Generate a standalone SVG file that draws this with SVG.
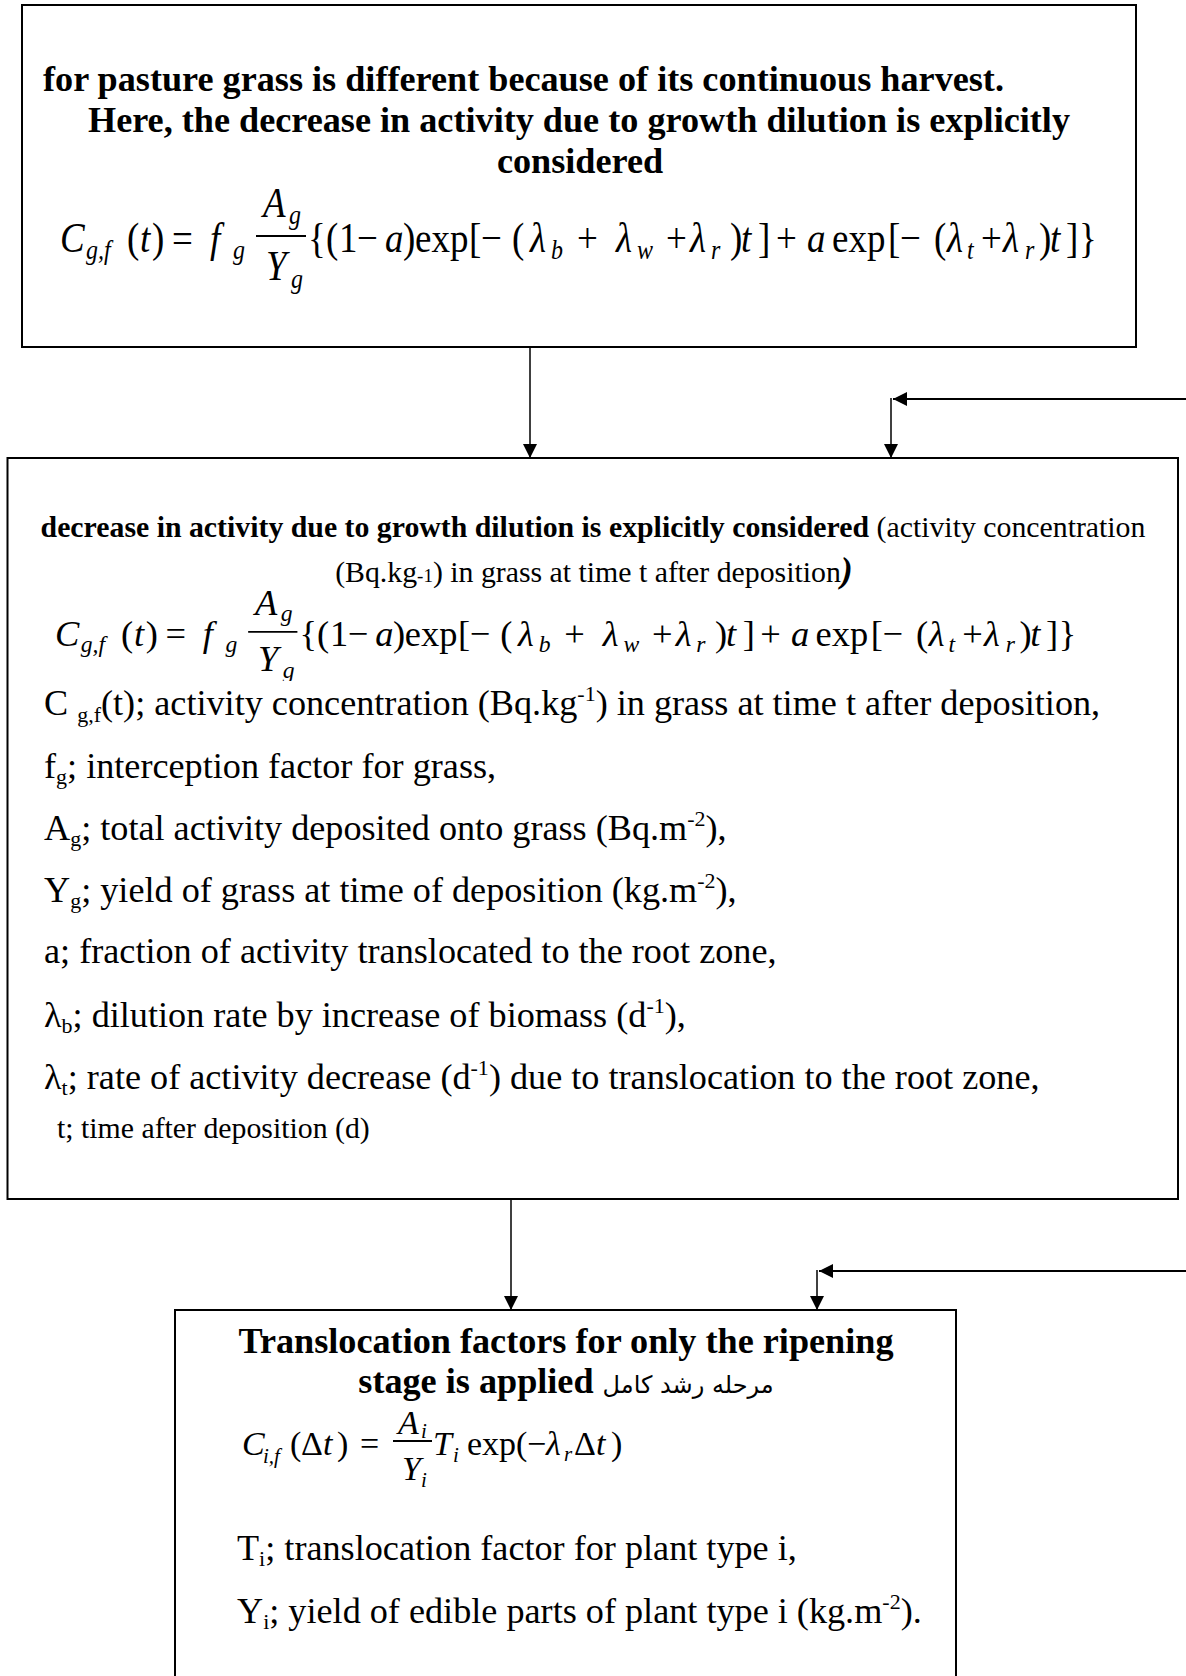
<svg xmlns="http://www.w3.org/2000/svg" width="1186" height="1676" viewBox="0 0 1186 1676">
<style>
.box{fill:#fff;stroke:#000;stroke-width:2}
.serif{font-family:"Liberation Serif","Times New Roman",serif;fill:#000}
.bold{font-weight:bold}
.t36{font-size:36.2px}
.t30{font-size:29.8px}
.sub{font-size:22px}
.mi{font-family:"Liberation Serif","Times New Roman",serif;font-style:italic;font-size:37px}
.mr{font-family:"Liberation Serif","Times New Roman",serif;font-size:37px}
.ms{font-family:"Liberation Serif","Times New Roman",serif;font-style:italic;font-size:24px}
.ni{font-family:"Liberation Serif","Times New Roman",serif;font-style:italic;font-size:34px}
.nr{font-family:"Liberation Serif","Times New Roman",serif;font-size:34px}
.ns{font-family:"Liberation Serif","Times New Roman",serif;font-style:italic;font-size:21px}
.bar{stroke:#000;stroke-width:1.8}
.conn{stroke:#000;fill:none}
.fa{font-family:"DejaVu Sans","Noto Sans",sans-serif;font-weight:normal;font-size:24px}
</style>
<defs>
<marker id="ah" viewBox="0 0 14 14" refX="14" refY="7" markerWidth="14" markerHeight="14" markerUnits="userSpaceOnUse" orient="auto"><path d="M0,0 L14,7 L0,14 z" fill="#000"/></marker>
<clipPath id="clipF2" clipPathUnits="userSpaceOnUse"><rect x="0" y="560" width="1186" height="121"/></clipPath>
</defs>
<rect x="0" y="0" width="1186" height="1676" fill="#fff"/>

<g id="connectors">
<line class="conn" x1="530" y1="347" x2="530" y2="458" stroke-width="1.5" marker-end="url(#ah)"/>
<line class="conn" x1="1186" y1="399" x2="893" y2="399" stroke-width="2.2" marker-end="url(#ah)"/>
<line class="conn" x1="891" y1="398" x2="891" y2="458" stroke-width="1.5" marker-end="url(#ah)"/>
<line class="conn" x1="511" y1="1199" x2="511" y2="1310" stroke-width="1.5" marker-end="url(#ah)"/>
<line class="conn" x1="1186" y1="1271" x2="819" y2="1271" stroke-width="2.2" marker-end="url(#ah)"/>
<line class="conn" x1="817" y1="1270" x2="817" y2="1310" stroke-width="1.5" marker-end="url(#ah)"/>
</g>

<g id="node1">
<rect class="box" x="22" y="5" width="1114" height="342"/>
<text class="serif bold t36" x="43" y="91">for pasture grass is different because of its continuous harvest.</text>
<text class="serif bold t36" x="579" y="132" text-anchor="middle">Here, the decrease in activity due to growth dilution is explicitly</text>
<text class="serif bold t36" x="580" y="173" text-anchor="middle">considered</text>
<g id="formula1" transform="translate(0,252) scale(1,1.12)">
<text class="mi"><tspan x="60" y="0">C</tspan><tspan x="140" y="0">t</tspan><tspan x="210" y="0">f</tspan><tspan x="263" y="-31">A</tspan><tspan x="266" y="25">Y</tspan><tspan x="385" y="0">a</tspan><tspan x="530" y="0">λ</tspan><tspan x="616" y="0">λ</tspan><tspan x="690" y="0">λ</tspan><tspan x="741" y="0">t</tspan><tspan x="807" y="0">a</tspan><tspan x="947" y="0">λ</tspan><tspan x="1003" y="0">λ</tspan><tspan x="1050" y="0">t</tspan></text>
<text class="ms"><tspan x="86" y="6.5">g,f</tspan><tspan x="233" y="6.5">g</tspan><tspan x="289" y="-25">g</tspan><tspan x="291" y="32">g</tspan><tspan x="551" y="6">b</tspan><tspan x="637" y="6">w</tspan><tspan x="711" y="6">r</tspan><tspan x="967" y="6">t</tspan><tspan x="1025" y="6">r</tspan></text>
<text class="mr"><tspan x="308" y="0">{</tspan><tspan x="127" y="0">(</tspan><tspan x="152" y="0">)</tspan><tspan x="172" y="0">=</tspan><tspan x="326" y="0">(</tspan><tspan x="339" y="0">1</tspan><tspan x="357" y="0">−</tspan><tspan x="403" y="0">)</tspan><tspan x="415" y="0">exp</tspan><tspan x="469" y="0">[</tspan><tspan x="481" y="0">−</tspan><tspan x="512" y="0">(</tspan><tspan x="577" y="0">+</tspan><tspan x="666" y="0">+</tspan><tspan x="730" y="0">)</tspan><tspan x="758" y="0">]</tspan><tspan x="776" y="0">+</tspan><tspan x="832" y="0">exp</tspan><tspan x="888" y="0">[</tspan><tspan x="900" y="0">−</tspan><tspan x="934" y="0">(</tspan><tspan x="981" y="0">+</tspan><tspan x="1039" y="0">)</tspan><tspan x="1066" y="0">]</tspan><tspan x="1079" y="0">}</tspan></text>
<line class="bar" x1="256" y1="-14.3" x2="306" y2="-14.3"/>
</g>
</g>

<g id="node2">
<rect class="box" x="7.5" y="458" width="1170.5" height="741"/>
<text class="serif t30" x="593" y="537" text-anchor="middle"><tspan class="bold">decrease in activity due to growth dilution is explicitly considered</tspan> (activity concentration</text>
<text class="serif t30" x="594" y="582" text-anchor="middle">(Bq.kg<tspan font-size="19">-1</tspan>) in grass at time t after deposition<tspan font-weight="bold" font-style="italic" font-size="36">)</tspan></text>
<g clip-path="url(#clipF2)">
<g id="formula2" transform="translate(-4,646) scale(0.985,0.985)">
<text class="mi"><tspan x="60" y="0">C</tspan><tspan x="140" y="0">t</tspan><tspan x="210" y="0">f</tspan><tspan x="263" y="-31">A</tspan><tspan x="266" y="25">Y</tspan><tspan x="385" y="0">a</tspan><tspan x="530" y="0">λ</tspan><tspan x="616" y="0">λ</tspan><tspan x="690" y="0">λ</tspan><tspan x="741" y="0">t</tspan><tspan x="807" y="0">a</tspan><tspan x="947" y="0">λ</tspan><tspan x="1003" y="0">λ</tspan><tspan x="1050" y="0">t</tspan></text>
<text class="ms"><tspan x="86" y="6.5">g,f</tspan><tspan x="233" y="6.5">g</tspan><tspan x="289" y="-25">g</tspan><tspan x="291" y="32">g</tspan><tspan x="551" y="6">b</tspan><tspan x="637" y="6">w</tspan><tspan x="711" y="6">r</tspan><tspan x="967" y="6">t</tspan><tspan x="1025" y="6">r</tspan></text>
<text class="mr"><tspan x="308" y="0">{</tspan><tspan x="127" y="0">(</tspan><tspan x="152" y="0">)</tspan><tspan x="172" y="0">=</tspan><tspan x="326" y="0">(</tspan><tspan x="339" y="0">1</tspan><tspan x="357" y="0">−</tspan><tspan x="403" y="0">)</tspan><tspan x="415" y="0">exp</tspan><tspan x="469" y="0">[</tspan><tspan x="481" y="0">−</tspan><tspan x="512" y="0">(</tspan><tspan x="577" y="0">+</tspan><tspan x="666" y="0">+</tspan><tspan x="730" y="0">)</tspan><tspan x="758" y="0">]</tspan><tspan x="776" y="0">+</tspan><tspan x="832" y="0">exp</tspan><tspan x="888" y="0">[</tspan><tspan x="900" y="0">−</tspan><tspan x="934" y="0">(</tspan><tspan x="981" y="0">+</tspan><tspan x="1039" y="0">)</tspan><tspan x="1066" y="0">]</tspan><tspan x="1079" y="0">}</tspan></text>
<line class="bar" x1="256" y1="-14.3" x2="306" y2="-14.3"/>
</g>
</g>
<text class="serif t36" x="44" y="715">C <tspan class="sub" dy="7">g,f</tspan><tspan dy="-7">(t); activity concentration (Bq.kg</tspan><tspan class="sub" dy="-14">-1</tspan><tspan dy="14">) in grass at time t after deposition,</tspan></text>
<text class="serif t36" x="44" y="778">f<tspan class="sub" dy="6">g</tspan><tspan dy="-6">; interception factor for grass,</tspan></text>
<text class="serif t36" x="44" y="840">A<tspan class="sub" dy="6">g</tspan><tspan dy="-6">; total activity deposited onto grass (Bq.m</tspan><tspan class="sub" dy="-14">-2</tspan><tspan dy="14">),</tspan></text>
<text class="serif t36" x="44" y="902">Y<tspan class="sub" dy="6">g</tspan><tspan dy="-6">; yield of grass at time of deposition (kg.m</tspan><tspan class="sub" dy="-14">-2</tspan><tspan dy="14">),</tspan></text>
<text class="serif t36" x="44" y="963">a; fraction of activity translocated to the root zone,</text>
<text class="serif t36" x="44" y="1027">λ<tspan class="sub" dy="6">b</tspan><tspan dy="-6">; dilution rate by increase of biomass (d</tspan><tspan class="sub" dy="-14">-1</tspan><tspan dy="14">),</tspan></text>
<text class="serif t36" x="44" y="1089">λ<tspan class="sub" dy="6">t</tspan><tspan dy="-6">; rate of activity decrease (d</tspan><tspan class="sub" dy="-14">-1</tspan><tspan dy="14">) due to translocation to the root zone,</tspan></text>
<text class="serif t30" x="57" y="1138">t; time after deposition (d)</text>
</g>

<g id="node3">
<rect class="box" x="175" y="1310" width="781" height="420"/>
<text class="serif bold t36" x="566" y="1353" text-anchor="middle">Translocation factors for only the ripening</text>
<text class="serif bold t36" x="566" y="1393" text-anchor="middle">stage is applied <tspan class="fa">مرحله رشد کامل</tspan></text>
<g id="formula3" transform="translate(0,1455)">
<text class="ni"><tspan x="242" y="0">C</tspan><tspan x="323" y="0">t</tspan><tspan x="398" y="-21">A</tspan><tspan x="402" y="25">Y</tspan><tspan x="433" y="0">T</tspan><tspan x="546" y="0">λ</tspan><tspan x="596" y="0">t</tspan></text>
<text class="ns"><tspan x="263" y="8">i,f</tspan><tspan x="421" y="-17">i</tspan><tspan x="421" y="32">i</tspan><tspan x="453" y="7">i</tspan><tspan x="564" y="6">r</tspan></text>
<text class="nr"><tspan x="290" y="0">(</tspan><tspan x="301" y="0">Δ</tspan><tspan x="337" y="0">)</tspan><tspan x="360" y="0">=</tspan><tspan x="467" y="0">exp(</tspan><tspan x="527" y="0">−</tspan><tspan x="574" y="0">Δ</tspan><tspan x="611" y="0">)</tspan></text>
<line class="bar" x1="393" y1="-14" x2="432" y2="-14"/>
</g>
<text class="serif t36" x="237" y="1560">T<tspan class="sub" dy="6">i</tspan><tspan dy="-6">; translocation factor for plant type i,</tspan></text>
<text class="serif t36" x="237" y="1623">Y<tspan class="sub" dy="6">i</tspan><tspan dy="-6">; yield of edible parts of plant type i (kg.m</tspan><tspan class="sub" dy="-14">-2</tspan><tspan dy="14">).</tspan></text>
</g>
</svg>
